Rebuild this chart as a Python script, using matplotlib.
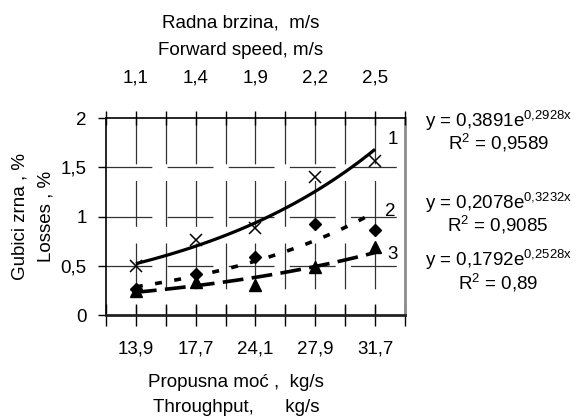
import numpy as np
import matplotlib
matplotlib.use("Agg")
import matplotlib.pyplot as plt

plt.rcParams['font.family'] = ['Liberation Sans', 'DejaVu Sans']
plt.rcParams['mathtext.fontset'] = 'custom'
plt.rcParams['mathtext.rm'] = 'Liberation Sans'
plt.rcParams['mathtext.it'] = 'Liberation Sans'
plt.rcParams['lines.scale_dashes'] = False

# throughput (bottom) and forward speed (top) categories
throughput = ['13,9', '17,7', '24,1', '27,9', '31,7']
speed = ['1,1', '1,4', '1,9', '2,2', '2,5']

# measured losses, %
losses_1 = [0.50, 0.76, 0.88, 1.40, 1.56]
losses_2 = [0.26, 0.42, 0.59, 0.92, 0.86]
losses_3 = [0.24, 0.33, 0.30, 0.49, 0.69]

# exponential trend lines y = a*e^(b*x)
fit_a = [0.3891, 0.2078, 0.1792]
fit_b = [0.2928, 0.3232, 0.2528]
fit_r2 = ['0,9589', '0,9085', '0,89']

FS = 13.5
x = np.arange(1, 6)

fig = plt.figure(figsize=(5.76, 4.18), dpi=100)
ax = fig.add_axes([0.184, 0.2464, 0.519, 0.4713])
ax.set_xlim(0.5, 5.5)
ax.set_ylim(0, 2)

# broken-looking grid
ax.hlines([0.5, 1.0, 1.5], 0.5, 5.5, colors='#333333', linewidth=0.9,
          linestyles=[(0, (33, 11))], zorder=1)
ax.vlines(np.arange(1, 5.5, 0.5), 2, 0, colors='#333333', linewidth=0.9,
          linestyles=[(0, (33, 12))], zorder=1)

# trend curves
xs = np.linspace(1, 5, 100)
ax.plot(xs, fit_a[0] * np.exp(fit_b[0] * xs), color='black', lw=2.3,
        solid_capstyle='butt', zorder=3)
ax.plot(xs, fit_a[1] * np.exp(fit_b[1] * xs), color='black', lw=2.6,
        dashes=(5, 9), zorder=3)
ax.plot(xs, fit_a[2] * np.exp(fit_b[2] * xs), color='black', lw=2.6,
        dashes=(15, 6), zorder=3)

# measured points
ax.plot(x, losses_1, 'x', color='black', ms=8.5, mew=1.1, zorder=4)
ax.plot(x, losses_2, 'D', color='black', ms=6.5, zorder=4)
ax.plot(x, losses_3, '^', color='black', ms=8.5, zorder=4)

ax.text(5.30, 1.78, '1', fontsize=FS, ha='center', va='center')
ax.text(5.25, 1.05, '2', fontsize=FS, ha='center', va='center')
ax.text(5.30, 0.61, '3', fontsize=FS, ha='center', va='center')

# axes frame
for s in ['left', 'top']:
    ax.spines[s].set_linewidth(1.2)
ax.spines['bottom'].set_linewidth(2.0)
ax.spines['bottom'].set_color('#222222')
ax.spines['right'].set_linewidth(2.0)
ax.spines['right'].set_color('#8c8c8c')

ax.set_yticks([0, 0.5, 1, 1.5, 2])
ax.set_yticklabels(['0', '0,5', '1', '1,5', '2'], fontsize=FS)
ax.tick_params(axis='y', direction='out', length=6, width=1, pad=8)

ax.set_xticks(np.arange(0.5, 5.6, 0.5))
ax.set_xticklabels(['' if i % 2 == 0 else throughput[i // 2] for i in range(11)],
                   fontsize=FS)
ax.tick_params(axis='x', direction='inout', length=16, width=1, pad=10)

top = ax.twiny()
top.set_xlim(ax.get_xlim())
top.set_xticks(np.arange(0.5, 5.6, 0.5))
top.set_xticklabels(['' if i % 2 == 0 else speed[i // 2] for i in range(11)],
                    fontsize=FS)
top.tick_params(axis='x', direction='inout', length=10, width=1, pad=18)
for s in top.spines.values():
    s.set_visible(False)

# axis titles
fig.text(0.418, 0.945, 'Radna brzina,  m/s', fontsize=FS, ha='center', va='center')
fig.text(0.418, 0.880, 'Forward speed, m/s', fontsize=FS, ha='center', va='center')
fig.text(0.410, 0.086, 'Propusna moć ,  kg/s', fontsize=FS, ha='center', va='center')
fig.text(0.411, 0.024, 'Throughput,      kg/s', fontsize=FS, ha='center', va='center')
fig.text(0.035, 0.481, 'Gubici zrna , %', fontsize=FS, rotation=90,
         ha='center', va='center')
fig.text(0.080, 0.483, 'Losses , %', fontsize=FS, rotation=90,
         ha='center', va='center')

# trend equations, equation above R^2
eq_y = [0.685, 0.490, 0.352]
for a, b, r2, yy in zip(fit_a, fit_b, fit_r2, eq_y):
    a_s = ('%.4f' % a).replace('.', ',')
    b_s = ('%.4f' % b).replace('.', ',')
    label = 'y = %se$^{\\text{%sx}}$\nR$^{2}$ = %s' % (a_s, b_s, r2)
    fig.text(0.865, yy, label, fontsize=FS, ha='center', va='center',
             multialignment='center', linespacing=0.95)

fig.savefig('out.png', dpi=100)
